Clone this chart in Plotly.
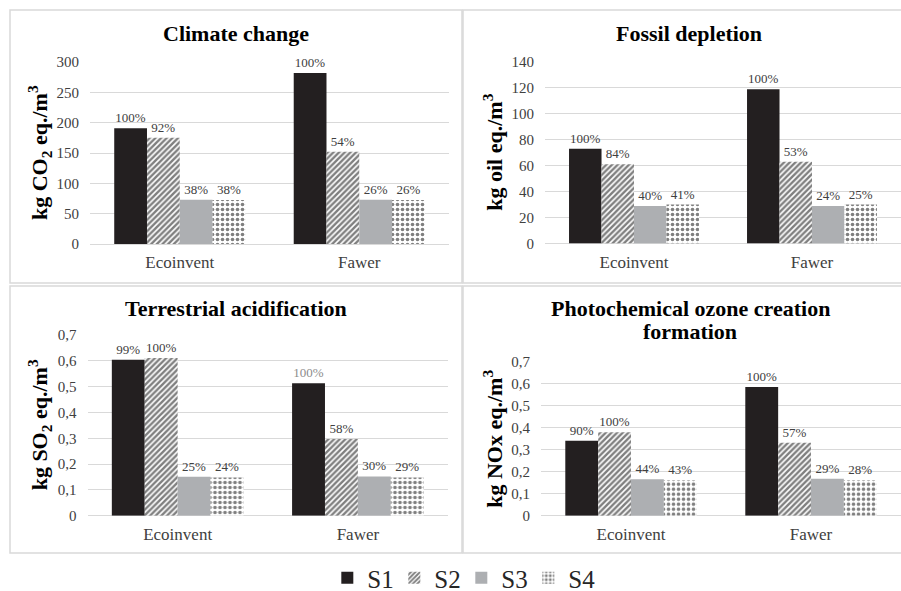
import plotly.graph_objects as go
from plotly.subplots import make_subplots

W, H = 901, 591

categories = ["Ecoinvent", "Fawer"]
scenarios = ["S1", "S2", "S3", "S4"]

# Impact values per scenario, ordered [Ecoinvent, Fawer]
climate_values = [[191, 282], [175, 152], [73, 73], [72.5, 72.5]]
fossil_values = [[73, 119], [61.2, 63], [29, 29], [30, 30]]
acidification_values = [[0.604, 0.513], [0.611, 0.297], [0.151, 0.152], [0.148, 0.148]]
ozone_values = [[0.341, 0.585], [0.379, 0.332], [0.166, 0.168], [0.162, 0.162]]

# panel headings (one entry per line)
panel_titles = [
    ["Climate change"],
    ["Fossil depletion"],
    ["Terrestrial acidification"],
    ["Photochemical ozone creation", "formation"],
]
axis_titles = [
    "kg CO<sub>2</sub> eq./m<sup>3</sup>",
    "kg oil eq./m<sup>3</sup>",
    "kg SO<sub>2</sub> eq./m<sup>3</sup>",
    "kg NOx eq./m<sup>3</sup>",
]
y_max = [300, 140, 0.7, 0.7]
y_step = [50, 20, 0.1, 0.1]

FONT = "Times New Roman"
INK = "#231f20"
TEXT = "#404040"
GRID = "#d9d9d9"

marker_styles = [
    dict(color=INK),
    dict(color="white", pattern=dict(shape="/", fgcolor="#000000", bgcolor="white", size=4, solidity=0.6)),
    dict(color="#adafb2"),
    dict(color="white", pattern=dict(shape=".", fgcolor="#000000", bgcolor="white", size=5, solidity=0.42)),
]

panels = [climate_values, fossil_values, acidification_values, ozone_values]
positions = [(1, 1), (1, 2), (2, 1), (2, 2)]

fig = make_subplots(rows=2, cols=2)

for p, (values, (r, c)) in enumerate(zip(panels, positions)):
    # share of the largest scenario within each database
    peaks = [max(v[i] for v in values) for i in range(len(categories))]
    for s, name in enumerate(scenarios):
        labels = [f"{round(values[s][i] / peaks[i] * 100):.0f}%" for i in range(len(categories))]
        colors = [TEXT, TEXT]
        if p == 2 and s == 0:
            colors = [TEXT, "#8c8c8c"]
        fig.add_trace(
            go.Bar(
                x=categories,
                y=values[s],
                name=name,
                marker=dict(**marker_styles[s], line=dict(width=0)),
                text=labels,
                textposition="outside",
                textfont=dict(family=FONT, size=13, color=colors),
                constraintext="none",
                cliponaxis=False,
                showlegend=(p == 0),
                legendgroup=name,
            ),
            row=r,
            col=c,
        )

# plot-area boxes in pixels: (left, right, top, bottom)
areas = [(90, 449, 62, 244), (545, 901, 62, 243.5), (87.5, 448, 335, 515.7), (541, 901, 361.7, 515.8)]
axis_ids = ["", "2", "3", "4"]
layout = {}
for k, (aid, (x0, x1, y0, y1)) in enumerate(zip(axis_ids, areas)):
    layout["xaxis" + aid] = dict(
        domain=[x0 / W, x1 / W],
        showgrid=False,
        showline=False,
        ticks="",
        automargin=False,
        tickfont=dict(family=FONT, size=17, color=TEXT),
        ticklabelstandoff=6,
    )
    layout["yaxis" + aid] = dict(
        domain=[1 - y1 / H, 1 - y0 / H],
        range=[0, y_max[k]],
        dtick=y_step[k],
        tick0=0,
        showgrid=True,
        gridcolor=GRID,
        gridwidth=1,
        zeroline=True,
        zerolinecolor=GRID,
        zerolinewidth=1,
        showline=False,
        ticks="",
        automargin=False,
        tickfont=dict(family=FONT, size=15, color=TEXT),
        ticklabelstandoff=10,
    )

# panel frames
frames = [(10, 462, 10, 283), (463, 920, 10, 283), (10, 462, 286, 553), (463, 920, 286, 553)]
shapes = [
    dict(type="rect", xref="paper", yref="paper", x0=a / W, x1=b / W, y0=1 - d / H, y1=1 - t / H,
         line=dict(color=GRID, width=1.5), layer="below")
    for a, b, t, d in frames
]

title_pos = [(236, 33), (689, 33), (236, 308), (690, 308)]
title_line_gap = 24
ytitle_x = [39, 493, 39, 493]
annotations = []
for k in range(4):
    tx, ty = title_pos[k]
    for j, line in enumerate(panel_titles[k]):
        annotations.append(dict(
            text=f"<b>{line}</b>", x=tx / W, y=1 - (ty + j * title_line_gap) / H,
            xref="paper", yref="paper", xanchor="center", yanchor="middle", showarrow=False,
            font=dict(family=FONT, size=22, color="#000000"),
        ))
    x0, x1, y0, y1 = areas[k]
    annotations.append(dict(
        text=f"<b>{axis_titles[k]}</b>", x=ytitle_x[k] / W, y=1 - (y0 + y1) / 2 / H,
        xref="paper", yref="paper", xanchor="center", yanchor="middle", textangle=-90,
        showarrow=False, font=dict(family=FONT, size=22, color="#000000"),
    ))

fig.update_layout(
    layout,
    width=W,
    height=H,
    margin=dict(l=0, r=0, t=0, b=0, autoexpand=False),
    paper_bgcolor="white",
    plot_bgcolor="white",
    barmode="group",
    bargap=0.27,
    bargroupgap=0,
    separators=", ",
    shapes=shapes,
    annotations=annotations,
    legend=dict(
        orientation="h",
        x=0.512,
        xanchor="center",
        y=1 - 578 / H,
        yanchor="middle",
        font=dict(family=FONT, size=25, color="#262626"),
        entrywidth=22,
        itemwidth=30,
        tracegroupgap=0,
    ),
    font=dict(family=FONT),
)

fig.write_html("out.html")
